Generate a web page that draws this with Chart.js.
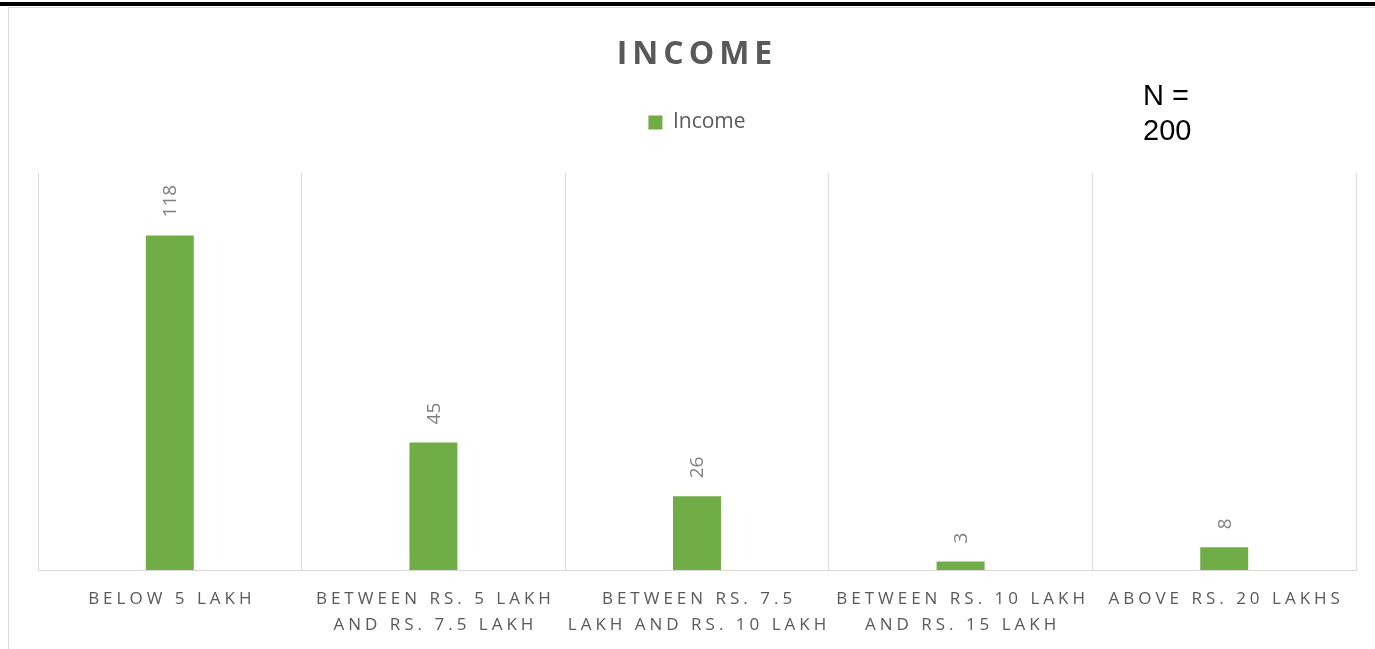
<!DOCTYPE html>
<html>
<head>
<meta charset="utf-8">
<title>Income</title>
<script src="https://cdn.jsdelivr.net/npm/chart.js@4.4.1/dist/chart.umd.min.js"></script>
<style>
  html, body { margin: 0; padding: 0; background: #fff; }
  body { width: 1375px; height: 649px; position: relative; overflow: hidden; }
  .rule { position: absolute; left: 0; top: 2px; width: 1375px; height: 4px; background: #000; }
  .frame { position: absolute; left: 8px; top: 7px; width: 1400px; height: 700px; border: 1px solid #d9d9d9; box-sizing: border-box; }
  #wrap { position: absolute; left: 0; top: 0; width: 1375px; height: 649px; }
</style>
</head>
<body>
<div class="rule"></div>
<div class="frame"></div>
<div id="wrap"><canvas id="incomeChart" width="1375" height="649"></canvas></div>
<script>
const categories = [
    ['BELOW 5 LAKH'],
    ['BETWEEN RS. 5 LAKH', 'AND RS. 7.5 LAKH'],
    ['BETWEEN RS. 7.5', 'LAKH AND RS. 10 LAKH'],
    ['BETWEEN RS. 10 LAKH', 'AND RS. 15 LAKH'],
    ['ABOVE RS. 20 LAKHS']
];
const incomeCounts = [118, 45, 26, 3, 8];
const titleText = 'INCOME';
const sampleNote = ['N =', '200'];

const GREEN = '#70ad47';
const TEXT = '#595959';
const PLOT_TOP = 173;
const PAD_TOP = 102;

// title, sample size note, spaced category labels and rotated value labels
const decorations = {
    id: 'decorations',
    beforeInit(chart) {
        // stretch the legend box so the plot starts lower down
        const legend = chart.legend;
        const fit = legend.fit;
        legend.fit = function () {
            fit.call(this);
            this.height = PLOT_TOP - PAD_TOP;
        };
    },
    afterDatasetsDraw(chart) {
        const ctx = chart.ctx;
        ctx.save();
        ctx.font = '19px "Open Sans"';
        ctx.fillStyle = '#808080';
        ctx.textAlign = 'left';
        ctx.textBaseline = 'middle';
        chart.getDatasetMeta(0).data.forEach((bar, i) => {
            ctx.save();
            ctx.translate(bar.x, bar.y - 18);
            ctx.rotate(-Math.PI / 2);
            ctx.fillText(String(incomeCounts[i]), 0, 1);
            ctx.restore();
        });
        ctx.restore();
    },
    afterDraw(chart) {
        const ctx = chart.ctx;
        const x = chart.scales.x;
        ctx.save();

        ctx.font = 'bold 32px "Open Sans"';
        ctx.letterSpacing = '5px';
        ctx.fillStyle = TEXT;
        ctx.textAlign = 'center';
        ctx.textBaseline = 'alphabetic';
        ctx.fillText(titleText, 697, 64);

        ctx.font = '17px "Open Sans"';
        ctx.letterSpacing = '4px';
        ctx.textBaseline = 'middle';
        categories.forEach((lines, i) => {
            const px = x.getPixelForTick(i) + 2;
            lines.forEach((t, j) => ctx.fillText(t, px, x.bottom + 29 + j * 26));
        });

        ctx.letterSpacing = '0px';
        ctx.font = '29px "Liberation Sans"';
        ctx.fillStyle = '#000';
        ctx.textAlign = 'left';
        ctx.textBaseline = 'alphabetic';
        sampleNote.forEach((t, j) => ctx.fillText(t, 1143, 105 + j * 35));

        ctx.restore();
    }
};

new Chart(document.getElementById('incomeChart'), {
    type: 'bar',
    data: {
        labels: categories,
        datasets: [{
            label: 'Income',
            data: incomeCounts,
            backgroundColor: GREEN,
            borderWidth: 0,
            categoryPercentage: 1,
            barPercentage: 0.182
        }]
    },
    options: {
        responsive: false,
        animation: false,
        layout: { padding: { left: 38, right: 19, top: PAD_TOP, bottom: 79 } },
        scales: {
            x: {
                grid: { color: '#d9d9d9', lineWidth: 1, drawTicks: false, offset: true },
                border: { color: '#d9d9d9', width: 1 },
                ticks: { display: false }
            },
            y: {
                display: false,
                min: 0,
                max: 140
            }
        },
        plugins: {
            title: { display: false },
            tooltip: { enabled: false },
            legend: {
                position: 'top',
                labels: {
                    boxWidth: 14,
                    boxHeight: 14,
                    color: TEXT,
                    padding: 10,
                    font: { family: '"Open Sans"', size: 21 }
                }
            }
        }
    },
    plugins: [decorations]
});
</script>
</body>
</html>
